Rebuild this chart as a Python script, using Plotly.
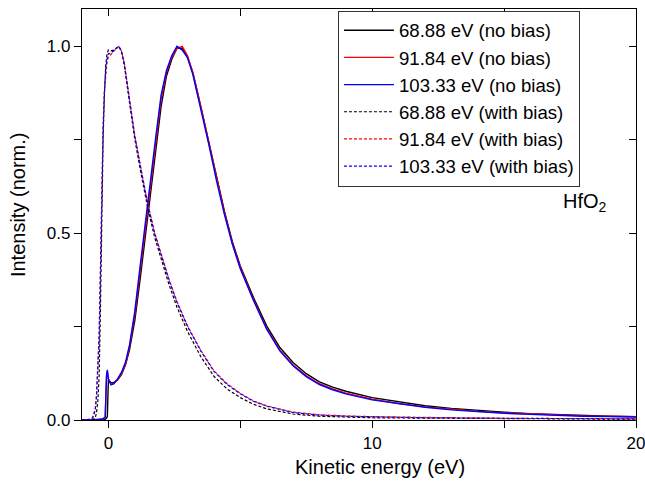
import plotly.graph_objects as go

# Kinetic energy grids (eV)
energy_no_bias = [-1.0, -0.5, -0.2, -0.12, -0.07, -0.04, 0.0, 0.1, 0.2, 0.35, 0.5, 0.65, 0.8,
                  1.0, 1.2, 1.4, 1.6, 1.8, 2.0, 2.2, 2.4, 2.6, 2.8, 3.0, 3.2, 3.5, 3.8, 4.1,
                  4.4, 4.7, 5.0, 5.5, 6.0, 6.5, 7.0, 7.5, 8.0, 8.5, 9.0, 10.0, 11.0, 12.0,
                  13.0, 14.0, 15.0, 16.0, 17.0, 18.0, 19.0, 20.0]
energy_with_bias = [-1.0, -0.7, -0.6, -0.5, -0.45, -0.4, -0.35, -0.3, -0.25, -0.2, -0.15, -0.1,
                    -0.05, 0.0, 0.1, 0.2, 0.3, 0.4, 0.5, 0.6, 0.8, 1.0, 1.25, 1.5, 1.75, 2.0,
                    2.3, 2.6, 3.0, 3.5, 4.0, 4.5, 5.0, 5.5, 6.0, 7.0, 8.0, 9.0, 10.0, 12.0,
                    14.0, 16.0, 18.0, 20.0]

# Normalised intensity, no bias
nb_6888 = [0.0, 0.0, 0.0, 0.002, 0.005, 0.01, 0.107, 0.1, 0.1, 0.107, 0.122, 0.148, 0.188,
           0.265, 0.375, 0.49, 0.61, 0.73, 0.84, 0.92, 0.965, 0.995, 0.995, 0.97, 0.93, 0.84,
           0.745, 0.648, 0.558, 0.477, 0.412, 0.328, 0.252, 0.194, 0.154, 0.124, 0.102, 0.088,
           0.077, 0.06, 0.048, 0.038, 0.031, 0.025, 0.021, 0.017, 0.014, 0.012, 0.010, 0.009]
nb_9184 = [0.0, 0.0, 0.003, 0.008, 0.115, 0.13, 0.11, 0.095, 0.097, 0.108, 0.125, 0.15, 0.195,
           0.28, 0.395, 0.515, 0.635, 0.75, 0.86, 0.93, 0.97, 0.995, 1.0, 0.975, 0.93, 0.84,
           0.745, 0.645, 0.555, 0.473, 0.408, 0.322, 0.245, 0.187, 0.147, 0.118, 0.097, 0.083,
           0.072, 0.056, 0.044, 0.035, 0.028, 0.023, 0.019, 0.016, 0.013, 0.011, 0.010, 0.009]
nb_10333 = [0.0, 0.0, 0.003, 0.008, 0.12, 0.134, 0.11, 0.094, 0.097, 0.11, 0.128, 0.155, 0.2,
            0.29, 0.41, 0.53, 0.65, 0.76, 0.87, 0.935, 0.975, 1.0, 0.99, 0.97, 0.925, 0.835,
            0.74, 0.64, 0.55, 0.47, 0.405, 0.32, 0.243, 0.185, 0.145, 0.116, 0.095, 0.081,
            0.07, 0.054, 0.043, 0.034, 0.027, 0.022, 0.018, 0.015, 0.012, 0.010, 0.009, 0.008]

# Normalised intensity, with bias
wb_6888 = [0.0, 0.0, 0.0, 0.005, 0.02, 0.05, 0.12, 0.30, 0.55, 0.75, 0.87, 0.95, 0.98, 0.99,
           0.988, 0.99, 0.995, 1.0, 0.985, 0.952, 0.85, 0.752, 0.655, 0.565, 0.49, 0.43, 0.362,
           0.302, 0.237, 0.17, 0.117, 0.083, 0.06, 0.042, 0.03, 0.016, 0.01, 0.008, 0.006,
           0.005, 0.004, 0.003, 0.003, 0.002]
wb_9184 = [0.0, 0.002, 0.006, 0.03, 0.07, 0.15, 0.23, 0.41, 0.62, 0.78, 0.88, 0.935, 0.96,
           0.972, 0.978, 0.987, 0.994, 1.0, 0.987, 0.957, 0.858, 0.762, 0.667, 0.577, 0.502,
           0.442, 0.376, 0.317, 0.252, 0.187, 0.132, 0.097, 0.071, 0.051, 0.038, 0.021, 0.014,
           0.011, 0.009, 0.007, 0.005, 0.004, 0.004, 0.003]
wb_10333 = [0.0, 0.002, 0.005, 0.025, 0.06, 0.14, 0.22, 0.40, 0.62, 0.78, 0.88, 0.94, 0.965,
            0.98, 0.982, 0.99, 0.995, 1.0, 0.985, 0.955, 0.855, 0.76, 0.665, 0.575, 0.5, 0.44,
            0.374, 0.315, 0.25, 0.185, 0.13, 0.095, 0.07, 0.05, 0.037, 0.02, 0.013, 0.01,
            0.008, 0.006, 0.005, 0.004, 0.003, 0.003]

series = [
    ("68.88 eV (no bias)", energy_no_bias, nb_6888, "#000000", "solid", 1.4),
    ("91.84 eV (no bias)", energy_no_bias, nb_9184, "#ff0000", "solid", 1.4),
    ("103.33 eV (no bias)", energy_no_bias, nb_10333, "#0000ff", "solid", 1.4),
    ("68.88 eV (with bias)", energy_with_bias, wb_6888, "#000000", "3px,2px", 1.2),
    ("91.84 eV (with bias)", energy_with_bias, wb_9184, "#ff0000", "3px,2px", 1.2),
    ("103.33 eV (with bias)", energy_with_bias, wb_10333, "#0000ff", "3px,2px", 1.2),
]

FONT = "Liberation Sans, Arial, Helvetica, sans-serif"
X_RANGE = [-1, 20]
Y_RANGE = [0, 1.1]

fig = go.Figure()
for name, xs, ys, color, dash, width in series:
    fig.add_trace(go.Scatter(x=xs, y=ys, mode="lines", name=name,
                             line=dict(color=color, dash=dash, width=width)))

# invisible trace so the mirrored top/right axes are drawn
fig.add_trace(go.Scatter(x=[None], y=[None], xaxis="x2", yaxis="y2",
                         showlegend=False, hoverinfo="skip"))

tick_common = dict(ticklen=7, tickwidth=1.2, tickcolor="black", linecolor="black",
                   linewidth=1.3, showline=True, showgrid=False, zeroline=False,
                   automargin=False)

fig.update_layout(
    width=645, height=483,
    margin=dict(l=82, r=9, t=9, b=63, autoexpand=False),
    paper_bgcolor="white", plot_bgcolor="white",
    font=dict(family=FONT, color="black", size=17),
    showlegend=True,
    legend=dict(x=0.462, y=0.996, xanchor="left", yanchor="top",
                bgcolor="white", bordercolor="#333333", borderwidth=1,
                font=dict(family=FONT, size=18.6, color="black"),
                itemwidth=50, tracegroupgap=0),
    xaxis=dict(range=X_RANGE, ticks="outside", tick0=0, dtick=10,
               ticklabeloverflow="allow",
               minor=dict(ticks="outside", dtick=5, tick0=0, ticklen=7, tickcolor="black",
                          showgrid=False),
               tickfont=dict(size=17), **tick_common),
    yaxis=dict(range=Y_RANGE, ticks="outside", tick0=0, dtick=0.5, tickformat=".1f",
               minor=dict(ticks="outside", dtick=0.25, tick0=0, ticklen=7, tickcolor="black",
                          showgrid=False),
               tickfont=dict(size=17), **tick_common),
    xaxis2=dict(range=X_RANGE, overlaying="x", side="top", anchor="y2", ticks="inside",
                tick0=0, dtick=5, showticklabels=False, **tick_common),
    yaxis2=dict(range=Y_RANGE, overlaying="y", side="right", anchor="x2", ticks="inside",
                tick0=0, dtick=0.25, showticklabels=False, **tick_common),
)

fig.add_annotation(text="Kinetic energy (eV)", xref="paper", yref="paper",
                   x=0.538, y=-0.114, xanchor="center", yanchor="middle",
                   showarrow=False, font=dict(family=FONT, size=20, color="black"))
fig.add_annotation(text="Intensity (norm.)", xref="paper", yref="paper",
                   x=-0.1155, y=0.523, xanchor="center", yanchor="middle", textangle=-90,
                   showarrow=False, font=dict(family=FONT, size=20, color="black"))
fig.add_annotation(text="HfO<sub>2</sub>", xref="paper", yref="paper",
                   x=0.908, y=0.53, xanchor="center", yanchor="middle",
                   showarrow=False, font=dict(family=FONT, size=20, color="black"))

fig.write_html("out.html")
